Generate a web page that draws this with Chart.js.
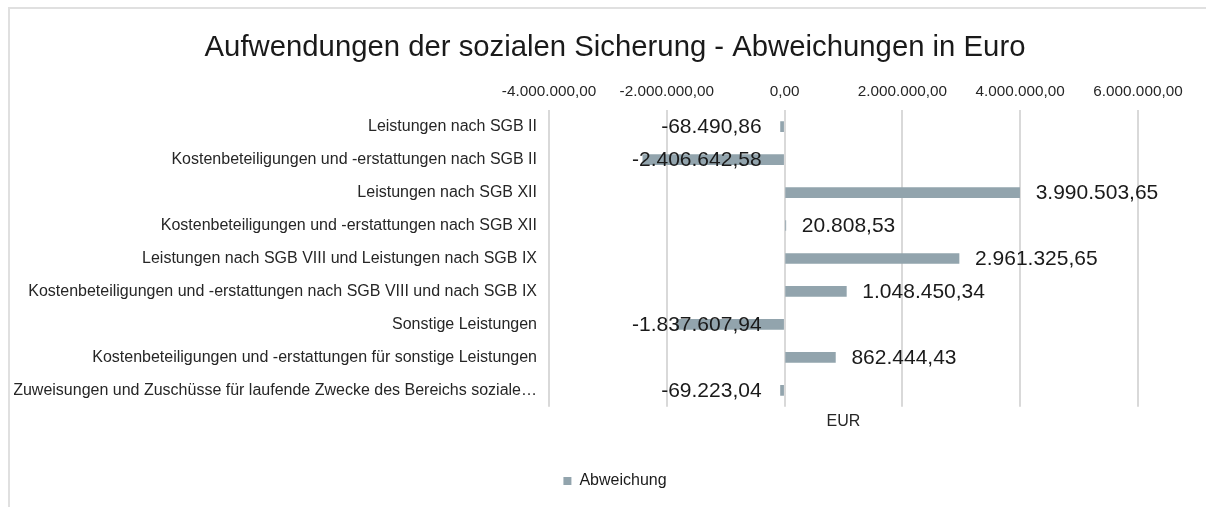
<!DOCTYPE html>
<html>
<head>
<meta charset="utf-8">
<script src="https://cdn.jsdelivr.net/npm/chart.js@4.4.0/dist/chart.umd.min.js"></script>
<style>
  html, body { margin: 0; padding: 0; background: #ffffff; overflow: hidden; }
  #frame { position: absolute; left: 8px; top: 7px; width: 1220px; height: 520px; border: 2px solid #e0e0e0; box-sizing: border-box; }
  #c { position: absolute; left: 0; top: 0; }
</style>
</head>
<body>
<div id="frame"></div>
<canvas id="c" width="1206" height="507"></canvas>
<script>
const chartTitle = 'Aufwendungen der sozialen Sicherung - Abweichungen in Euro';
const categories = [
  'Leistungen nach SGB II',
  'Kostenbeteiligungen und -erstattungen nach SGB II',
  'Leistungen nach SGB XII',
  'Kostenbeteiligungen und -erstattungen nach SGB XII',
  'Leistungen nach SGB VIII und Leistungen nach SGB IX',
  'Kostenbeteiligungen und -erstattungen nach SGB VIII und nach SGB IX',
  'Sonstige Leistungen',
  'Kostenbeteiligungen und -erstattungen für sonstige Leistungen',
  'Zuweisungen und Zuschüsse für laufende Zwecke des Bereichs soziale…'
];
const seriesName = 'Abweichung';
const abweichung = [
  -68490.86,
  -2406642.58,
  3990503.65,
  20808.53,
  2961325.65,
  1048450.34,
  -1837607.94,
  862444.43,
  -69223.04
];
const xTickValues = [-4000000, -2000000, 0, 2000000, 4000000, 6000000];
const axisTitle = 'EUR';

const FONT = "'Liberation Sans', Arial, Helvetica, sans-serif";
const BAR = '#92a4ad';

function fmtDE(v) {
  const neg = v < 0;
  const parts = Math.abs(v).toFixed(2).split('.');
  const intPart = parts[0].replace(/\B(?=(\d{3})+(?!\d))/g, '.');
  return (neg ? '-' : '') + intPart + ',' + parts[1];
}

const valueLabels = {
  id: 'valueLabels',
  afterDatasetsDraw(chart) {
    const ctx = chart.ctx;
    const meta = chart.getDatasetMeta(0);
    const data = chart.data.datasets[0].data;
    ctx.save();
    ctx.font = '21px ' + FONT;
    ctx.fillStyle = '#1a1a1a';
    ctx.textBaseline = 'middle';
    meta.data.forEach((el, i) => {
      const v = data[i];
      const txt = fmtDE(v);
      if (v >= 0) {
        ctx.textAlign = 'left';
        ctx.fillText(txt, el.x + 16, el.y + 1);
      } else {
        ctx.textAlign = 'right';
        ctx.fillText(txt, el.base - 22, el.y + 1);
      }
    });
    ctx.restore();
  }
};

new Chart(document.getElementById('c'), {
  type: 'bar',
  data: {
    labels: categories,
    datasets: [{
      label: seriesName,
      data: abweichung,
      backgroundColor: BAR,
      borderWidth: 0,
      barThickness: 10
    }]
  },
  options: {
    indexAxis: 'y',
    responsive: false,
    animation: false,
    devicePixelRatio: 1,
    layout: { padding: { left: 14, right: -10, top: 10, bottom: 8 } },
    plugins: {
      title: {
        display: true,
        text: chartTitle,
        color: '#1a1a1a',
        font: { family: FONT, size: 29.3, weight: 'normal' },
        padding: { top: 20, bottom: 0 }
      },
      legend: {
        display: true,
        position: 'bottom',
        labels: {
          boxWidth: 8,
          boxHeight: 8,
          color: '#1a1a1a',
          font: { family: FONT, size: 16 },
          padding: 10
        }
      },
      tooltip: { enabled: false }
    },
    scales: {
      x: {
        type: 'linear',
        position: 'top',
        min: -4000000,
        max: 6000000,
        afterBuildTicks(scale) { scale.ticks = xTickValues.map(v => ({ value: v })); },
        afterFit(scale) { scale.height = 45; },
        ticks: {
          color: '#262626',
          font: { family: FONT, size: 15.3 },
          padding: 9,
          maxRotation: 0,
          autoSkip: false,
          callback: (v) => fmtDE(v)
        },
        grid: { color: '#d9d9d9', lineWidth: 2, drawTicks: false },
        border: { display: false }
      },
      x2: {
        type: 'linear',
        position: 'bottom',
        display: true,
        ticks: { display: false },
        grid: { display: false, drawTicks: false },
        border: { display: false },
        title: {
          display: true,
          text: axisTitle,
          color: '#262626',
          font: { family: FONT, size: 16 },
          padding: { top: 5, bottom: 32 }
        }
      },
      y: {
        type: 'category',
        position: 'left',
        afterFit(scale) { scale.width = 549 - 14; },
        ticks: {
          color: '#262626',
          font: { family: FONT, size: 16 },
          padding: 12,
          autoSkip: false
        },
        grid: { display: false, drawTicks: false },
        border: { display: false }
      },
      yRight: {
        type: 'linear',
        position: 'right',
        display: true,
        afterFit(scale) { scale.width = 78; },
        ticks: { display: false },
        grid: { display: false, drawTicks: false },
        border: { display: false }
      }
    }
  },
  plugins: [valueLabels]
});
</script>
</body>
</html>
